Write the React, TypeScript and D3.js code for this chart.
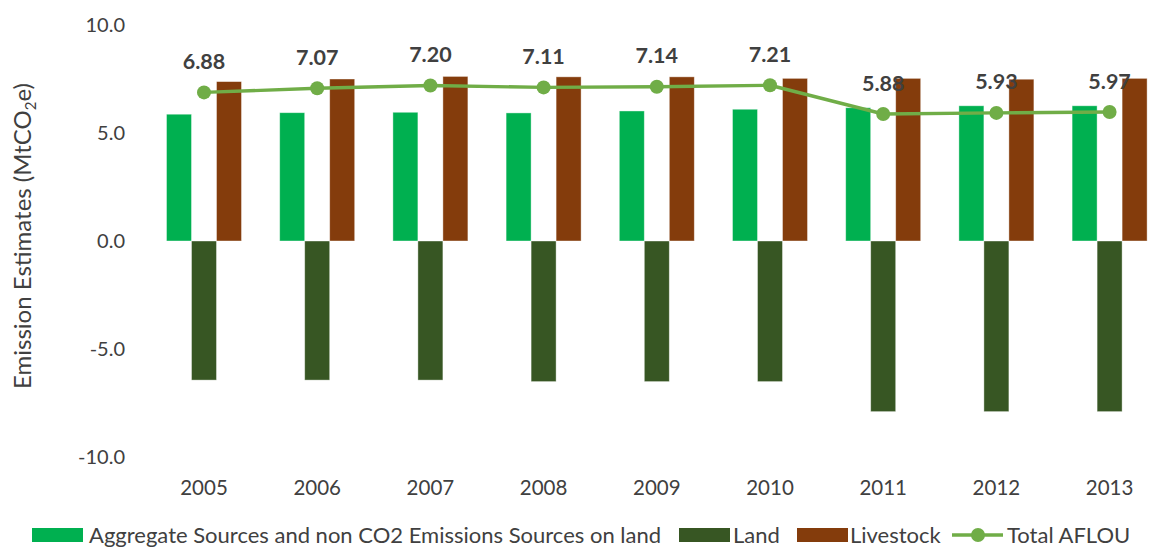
import * as d3 from 'd3';

const years = ['2005', '2006', '2007', '2008', '2009', '2010', '2011', '2012', '2013'];
const aggregate = [5.87, 5.94, 5.96, 5.93, 6.02, 6.1, 6.17, 6.26, 6.26];
const land = [-6.44, -6.44, -6.44, -6.51, -6.51, -6.51, -7.9, -7.9, -7.9];
const livestock = [7.38, 7.5, 7.62, 7.6, 7.6, 7.53, 7.53, 7.49, 7.53];
const totalAflou = [6.88, 7.07, 7.2, 7.11, 7.14, 7.21, 5.88, 5.93, 5.97];
const yTicks = [-10, -5, 0, 5, 10];

const seriesNames = ['Aggregate Sources and non CO2 Emissions Sources on land', 'Land', 'Livestock'];
const colors = ['#00B050', '#375623', '#843C0C'];
const lineColor = '#70AD47';
const textColor = '#404040';
const font = 'Lato, "Open Sans", sans-serif';

export default function App() {
  const width = 1159;
  const height = 547;

  const x = d3.scaleBand().domain(years).range([147.4, 1166.2]).padding(0);
  const step = x.bandwidth();
  const groupW = 75;
  const xSub = d3.scaleBand<number>().domain([0, 1, 2])
    .range([step / 2 - groupW / 2, step / 2 + groupW / 2]).padding(0);
  const y = d3.scaleLinear().domain([-10, 10]).range([457, 25]);

  const series = [aggregate, land, livestock];

  const line = d3.line<number>()
    .x((d, i) => (x(years[i]) as number) + step / 2)
    .y(d => y(d));

  // legend positions (left edge of each swatch)
  const legendY = 535;
  const legend = [
    { kind: 'rect', x: 32, tx: 89, label: seriesNames[0], color: colors[0] },
    { kind: 'rect', x: 679, tx: 733, label: seriesNames[1], color: colors[1] },
    { kind: 'rect', x: 797, tx: 850, label: seriesNames[2], color: colors[2] },
    { kind: 'line', x: 952, tx: 1007, label: 'Total AFLOU', color: lineColor },
  ];

  return (
    <svg width={width} height={height} style={{ position: 'absolute', left: 0, top: 0 }}
      fontFamily={font}>
      <rect width={width} height={height} fill="#fff" />

      {/* y axis tick labels */}
      {yTicks.map(t => (
        <text key={t} x={125} y={y(t)} dy="0.35em" textAnchor="end" fontSize={20} fill={textColor}>
          {t.toFixed(1)}
        </text>
      ))}

      {/* y axis title */}
      <text transform="translate(31,236) rotate(-90)" textAnchor="middle" fontSize={24} fill={textColor}>
        Emission Estimates (MtCO<tspan fontSize={15} dy={5}>2</tspan><tspan dy={-5}>e)</tspan>
      </text>

      {/* bars */}
      {series.map((vals, si) => (
        <g key={si}>
          {vals.map((v, i) => (
            <rect key={i}
              x={(x(years[i]) as number) + (xSub(si) as number)}
              y={y(Math.max(0, v))}
              width={xSub.bandwidth()}
              height={Math.abs(y(v) - y(0))}
              fill={colors[si]}
              stroke="#fff" strokeOpacity={0.5} strokeWidth={0.8} />
          ))}
        </g>
      ))}

      {/* x axis labels */}
      {years.map(yr => (
        <text key={yr} x={(x(yr) as number) + step / 2} y={488} dy="0.35em" textAnchor="middle"
          fontSize={20.5} fill={textColor}>{yr}</text>
      ))}

      {/* total line */}
      <path d={line(totalAflou) || ''} fill="none" stroke={lineColor} strokeWidth={3.4} strokeLinejoin="round" />
      {totalAflou.map((v, i) => (
        <circle key={i} cx={(x(years[i]) as number) + step / 2} cy={y(v)} r={7} fill={lineColor} />
      ))}
      {totalAflou.map((v, i) => (
        <text key={'l' + i} x={(x(years[i]) as number) + step / 2} y={y(v) - 31} dy="0.35em"
          textAnchor="middle" fontSize={21.5} fontWeight="bold" fill={textColor}>
          {v.toFixed(2)}
        </text>
      ))}

      {/* legend */}
      {legend.map(l => (
        <g key={l.label}>
          {l.kind === 'rect' ? (
            <rect x={l.x} y={legendY - 7} width={51} height={14} fill={l.color} />
          ) : (
            <g>
              <line x1={l.x} x2={l.x + 51} y1={legendY} y2={legendY} stroke={l.color} strokeWidth={3.4} />
              <circle cx={l.x + 26} cy={legendY} r={7} fill={l.color} />
            </g>
          )}
          <text x={l.tx} y={legendY} dy="0.35em" fontSize={22} fill={textColor}>{l.label}</text>
        </g>
      ))}
    </svg>
  );
}
